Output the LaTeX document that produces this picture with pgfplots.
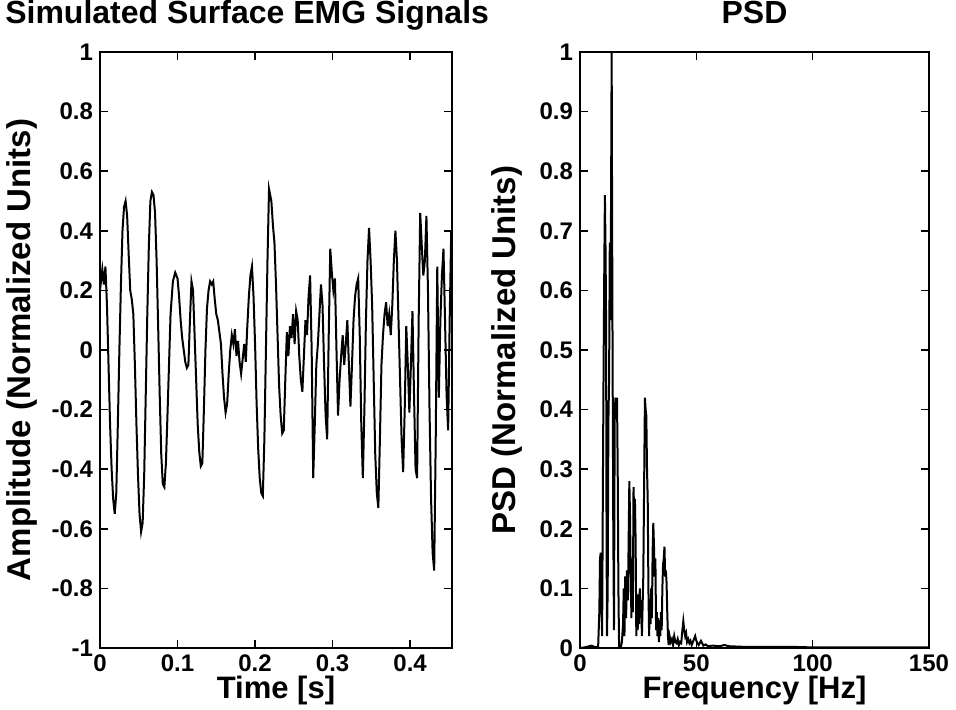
\documentclass[border=0pt]{standalone}
\usepackage{fontspec}
\setmainfont{Liberation Sans}
\usepackage{pgfplots}
\pgfplotsset{compat=1.18}
\pgfplotsset{
  matlab/.style={
    scale only axis,
    tick align=inside,
    major tick length=4pt,
    every tick/.style={black, line width=0.8pt},
    axis line style={line width=1pt},
    ticklabel style={font=\fontsize{12}{12}\selectfont\bfseries},
    label style={font=\fontsize{15.5}{15.5}\selectfont\bfseries},
    ylabel style={font=\fontsize{16.5}{16.5}\selectfont\bfseries},
    title style={font=\fontsize{16}{16}\selectfont\bfseries, anchor=base, yshift=8pt},
    xlabel style={at={(axis description cs:0.5,-0.072)}, anchor=center},
  }
}
\begin{document}
\begin{tikzpicture}
\path[use as bounding box] (0,0) rectangle (478pt,355pt);
\begin{axis}[matlab,
  at={(50pt,31pt)}, anchor=south west,
  width=176pt, height=298pt,
  xmin=0, xmax=0.454, ymin=-1, ymax=1,
  xtick={0,0.1,0.2,0.3,0.4}, xticklabels={0,0.1,0.2,0.3,0.4},
  ytick={-1,-0.8,-0.6,-0.4,-0.2,0,0.2,0.4,0.6,0.8,1},
  yticklabels={-1,-0.8,-0.6,-0.4,-0.2,0,0.2,0.4,0.6,0.8,1},
  title={Simulated Surface EMG Signals},
  title style={at={(axis description cs:0.418,1)}},
  xlabel={Time [s]},
  ylabel={Amplitude (Normalized Units)},
  ylabel style={at={(axis description cs:-0.222,0.5)}, anchor=center},
]
\addplot[black, line width=1pt, mark=none, line join=miter] table {
0.000 0.20
0.003 0.27
0.005 0.22
0.007 0.28
0.009 0.15
0.011 -0.05
0.013 -0.25
0.015 -0.40
0.017 -0.50
0.019 -0.55
0.021 -0.48
0.023 -0.25
0.025 0.00
0.027 0.22
0.029 0.40
0.031 0.48
0.033 0.50
0.035 0.45
0.037 0.32
0.039 0.20
0.041 0.17
0.043 0.12
0.045 -0.05
0.047 -0.25
0.049 -0.42
0.051 -0.55
0.053 -0.61
0.055 -0.58
0.057 -0.42
0.059 -0.15
0.061 0.12
0.063 0.35
0.065 0.50
0.067 0.53
0.069 0.52
0.071 0.46
0.073 0.30
0.075 0.08
0.077 -0.15
0.079 -0.35
0.081 -0.45
0.083 -0.46
0.085 -0.38
0.087 -0.22
0.089 -0.05
0.091 0.12
0.094 0.23
0.097 0.26
0.100 0.24
0.102 0.18
0.104 0.10
0.106 0.04
0.108 0.00
0.110 -0.04
0.112 -0.06
0.114 -0.05
0.116 0.10
0.118 0.23
0.120 0.20
0.122 0.05
0.124 -0.10
0.126 -0.25
0.128 -0.34
0.130 -0.39
0.132 -0.38
0.134 -0.20
0.136 0.00
0.138 0.14
0.140 0.20
0.142 0.23
0.144 0.22
0.146 0.23
0.148 0.17
0.150 0.12
0.152 0.10
0.154 0.06
0.156 0.02
0.158 -0.08
0.160 -0.16
0.162 -0.21
0.164 -0.18
0.166 -0.08
0.168 0.00
0.170 0.05
0.172 0.02
0.174 0.07
0.176 -0.02
0.178 0.03
0.180 -0.04
0.182 -0.08
0.184 -0.03
0.186 0.02
0.188 -0.04
0.190 0.08
0.192 0.18
0.194 0.25
0.196 0.28
0.198 0.18
0.200 0.02
0.202 -0.18
0.204 -0.33
0.206 -0.43
0.208 -0.48
0.210 -0.49
0.212 -0.30
0.214 0.00
0.216 0.30
0.218 0.54
0.221 0.50
0.223 0.42
0.225 0.36
0.227 0.22
0.229 0.05
0.231 -0.12
0.233 -0.22
0.235 -0.28
0.237 -0.27
0.239 -0.10
0.241 0.06
0.243 -0.02
0.245 0.08
0.247 0.04
0.249 0.12
0.251 0.02
0.253 0.13
0.255 0.10
0.257 -0.02
0.259 -0.10
0.261 -0.14
0.263 -0.02
0.265 0.10
0.267 0.05
0.269 0.18
0.271 0.25
0.273 0.00
0.275 -0.43
0.277 -0.25
0.279 -0.05
0.281 0.02
0.283 0.12
0.285 0.22
0.287 0.15
0.289 -0.05
0.291 -0.22
0.293 -0.30
0.295 0.05
0.297 0.34
0.299 0.26
0.301 0.20
0.303 0.24
0.305 0.00
0.307 -0.22
0.309 -0.10
0.311 -0.02
0.313 0.05
0.315 -0.05
0.317 0.02
0.319 0.10
0.321 -0.05
0.323 -0.19
0.325 -0.05
0.327 0.10
0.329 0.18
0.331 0.22
0.333 0.24
0.335 0.05
0.337 -0.25
0.339 -0.43
0.341 -0.20
0.343 0.10
0.345 0.30
0.347 0.41
0.349 0.30
0.351 0.15
0.353 -0.10
0.355 -0.35
0.357 -0.48
0.359 -0.53
0.361 -0.30
0.363 -0.05
0.365 0.05
0.367 0.12
0.369 0.16
0.371 0.08
0.373 0.12
0.375 0.05
0.377 0.15
0.379 0.30
0.381 0.40
0.383 0.30
0.385 0.10
0.387 -0.10
0.389 -0.30
0.391 -0.41
0.393 -0.20
0.395 0.08
0.397 -0.05
0.399 -0.21
0.401 -0.05
0.403 0.13
0.405 -0.15
0.407 -0.40
0.409 -0.43
0.411 0.10
0.413 0.46
0.415 0.35
0.417 0.25
0.419 0.30
0.421 0.45
0.423 0.20
0.425 -0.20
0.427 -0.50
0.429 -0.68
0.431 -0.74
0.433 -0.30
0.435 0.28
0.437 -0.16
0.439 0.10
0.441 0.25
0.443 0.34
0.445 0.10
0.447 -0.15
0.449 -0.27
0.451 0.10
0.453 0.40
0.454 0.20
};
\end{axis}
\begin{axis}[matlab,
  at={(290pt,31pt)}, anchor=south west,
  width=174.5pt, height=298pt,
  xmin=0, xmax=150, ymin=0, ymax=1,
  xtick={0,50,100,150}, xticklabels={0,50,100,150},
  ytick={0,0.1,0.2,0.3,0.4,0.5,0.6,0.7,0.8,0.9,1},
  yticklabels={0,0.1,0.2,0.3,0.4,0.5,0.6,0.7,0.8,0.9,1},
  title={PSD},
  title style={at={(axis description cs:0.5,1)}},
  xlabel={Frequency [Hz]},
  ylabel={PSD (Normalized Units)},
  ylabel style={at={(axis description cs:-0.209,0.5)}, anchor=center},
]
\addplot[black, line width=1pt, mark=none, line join=miter] table {
0 0.000
2 0.001
4 0.003
5 0.004
6 0.002
7 0.001
7.8 0.003
8.3 0.06
8.6 0.15
8.9 0.16
9.2 0.08
9.5 0.02
9.8 0.25
10.1 0.45
10.4 0.62
10.7 0.76
11.0 0.66
11.2 0.55
11.4 0.20
11.6 0.02
11.9 0.10
12.2 0.38
12.5 0.45
12.8 0.68
13.1 0.55
13.4 0.80
13.6 1.00
13.8 0.72
14.0 0.49
14.3 0.20
14.6 0.03
14.9 0.38
15.2 0.42
15.6 0.41
15.9 0.42
16.2 0.30
16.5 0.10
16.8 0.00
17.5 0.00
18.0 0.01
18.5 0.04
18.8 0.10
19.1 0.02
19.4 0.12
19.8 0.05
20.2 0.13
20.6 0.08
20.9 0.18
21.2 0.28
21.5 0.22
21.8 0.12
22.1 0.05
22.4 0.15
22.7 0.06
23.0 0.27
23.3 0.22
23.6 0.25
23.9 0.18
24.2 0.02
24.5 0.06
24.8 0.03
25.1 0.09
25.4 0.04
25.7 0.10
26.0 0.05
26.3 0.08
26.6 0.02
26.9 0.07
27.2 0.12
27.5 0.25
27.9 0.42
28.2 0.40
28.5 0.39
28.8 0.30
29.1 0.25
29.4 0.10
29.7 0.02
30.0 0.08
30.3 0.04
30.6 0.10
30.9 0.05
31.2 0.16
31.5 0.21
31.8 0.17
32.1 0.12
32.4 0.15
32.7 0.03
33.0 0.06
33.3 0.02
33.6 0.05
33.9 0.01
34.2 0.04
34.5 0.02
34.8 0.06
35.1 0.03
35.4 0.10
35.7 0.14
36.0 0.15
36.3 0.17
36.6 0.12
36.9 0.13
37.2 0.11
37.5 0.06
37.8 0.02
38.1 0.005
38.5 0.02
39.0 0.01
39.5 0.015
40.0 0.005
40.5 0.02
41.0 0.01
41.5 0.008
42.0 0.015
42.5 0.005
43.0 0.01
43.5 0.008
44.0 0.03
44.4 0.045
44.8 0.03
45.2 0.02
45.6 0.025
46.0 0.01
46.5 0.015
47.0 0.008
47.5 0.012
48.0 0.005
48.5 0.01
49.0 0.015
49.5 0.02
50.0 0.012
50.5 0.008
51.0 0.005
52.0 0.012
53.0 0.004
54.0 0.006
55.0 0.003
57.0 0.004
60.0 0.003
62.0 0.005
64.0 0.003
70.0 0.002
80.0 0.002
90.0 0.002
100.0 0.001
120.0 0.001
150.0 0.001
};
\end{axis}
\end{tikzpicture}
\end{document}
